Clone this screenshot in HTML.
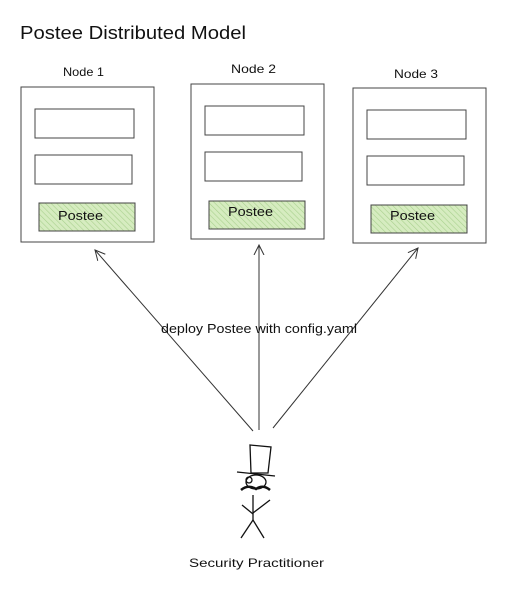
<!DOCTYPE html>
<html><head><style>
body{margin:0;background:#fff;}
svg text{font-family:"Liberation Sans",sans-serif;fill:#111;}
</style></head><body>
<svg width="511" height="596" xmlns="http://www.w3.org/2000/svg">
<defs>
<pattern id="h" width="4" height="4" patternUnits="userSpaceOnUse" patternTransform="rotate(-45)">
<rect width="4" height="4" fill="#d6ecc0"/><line x1="0" y1="0" x2="0" y2="4" stroke="#a9d18e" stroke-width="1.2"/>
</pattern>
<marker id="a" markerWidth="12" markerHeight="12" refX="10" refY="6" orient="auto" markerUnits="userSpaceOnUse">
<path d="M0,1 L10,6 L0,11" fill="none" stroke="#333" stroke-width="1"/></marker>
</defs>
<text x="20" y="39" font-size="18" textLength="226" lengthAdjust="spacingAndGlyphs">Postee Distributed Model</text>
<g fill="none" stroke="#444" stroke-width="1">
<rect x="21" y="87" width="133" height="155"/>
<rect x="35" y="109" width="99" height="29"/>
<rect x="35" y="155" width="97" height="29"/>
<rect x="191" y="84" width="133" height="155"/>
<rect x="205" y="106" width="99" height="29"/>
<rect x="205" y="152" width="97" height="29"/>
<rect x="353" y="88" width="133" height="155"/>
<rect x="367" y="110" width="99" height="29"/>
<rect x="367" y="156" width="97" height="29"/>
</g>
<g stroke="#444" stroke-width="1" fill="url(#h)">
<rect x="39" y="203" width="96" height="28"/>
<rect x="209" y="201" width="96" height="28"/>
<rect x="371" y="205" width="96" height="28"/>
</g>
<text x="58" y="220" font-size="13" textLength="45" lengthAdjust="spacingAndGlyphs">Postee</text>
<text x="228" y="216" font-size="13" textLength="45" lengthAdjust="spacingAndGlyphs">Postee</text>
<text x="390" y="220" font-size="13" textLength="45" lengthAdjust="spacingAndGlyphs">Postee</text>
<text x="63" y="76" font-size="12" textLength="41" lengthAdjust="spacingAndGlyphs">Node 1</text>
<text x="231" y="73" font-size="12" textLength="45" lengthAdjust="spacingAndGlyphs">Node 2</text>
<text x="394" y="78" font-size="12" textLength="44" lengthAdjust="spacingAndGlyphs">Node 3</text>
<g stroke="#333" stroke-width="1" fill="none">
<line x1="253" y1="431" x2="95" y2="250" marker-end="url(#a)"/>
<line x1="259" y1="430" x2="259" y2="245" marker-end="url(#a)"/>
<line x1="273" y1="428" x2="418" y2="248" marker-end="url(#a)"/>
</g>
<text x="161" y="333" font-size="12.5" textLength="196" lengthAdjust="spacingAndGlyphs">deploy Postee with config.yaml</text>
<g stroke="#111" stroke-width="1.3" fill="none">
<path d="M250,445 L271,447 L268,473 L251,473 Z"/>
<line x1="237" y1="472" x2="275" y2="476"/>
<ellipse cx="256" cy="482" rx="10" ry="7"/>
<circle cx="249" cy="480" r="3"/>
<path d="M241,490 Q248,484 256,489 Q263,484 270,490" stroke-width="2.5"/>
<line x1="253" y1="495" x2="253" y2="520"/>
<line x1="242" y1="505" x2="253" y2="514"/>
<line x1="253" y1="513" x2="270" y2="500"/>
<line x1="253" y1="520" x2="241" y2="538"/>
<line x1="253" y1="520" x2="264" y2="538"/>
</g>
<text x="189" y="567" font-size="12" textLength="135" lengthAdjust="spacingAndGlyphs">Security Practitioner</text>
</svg>
</body></html>
